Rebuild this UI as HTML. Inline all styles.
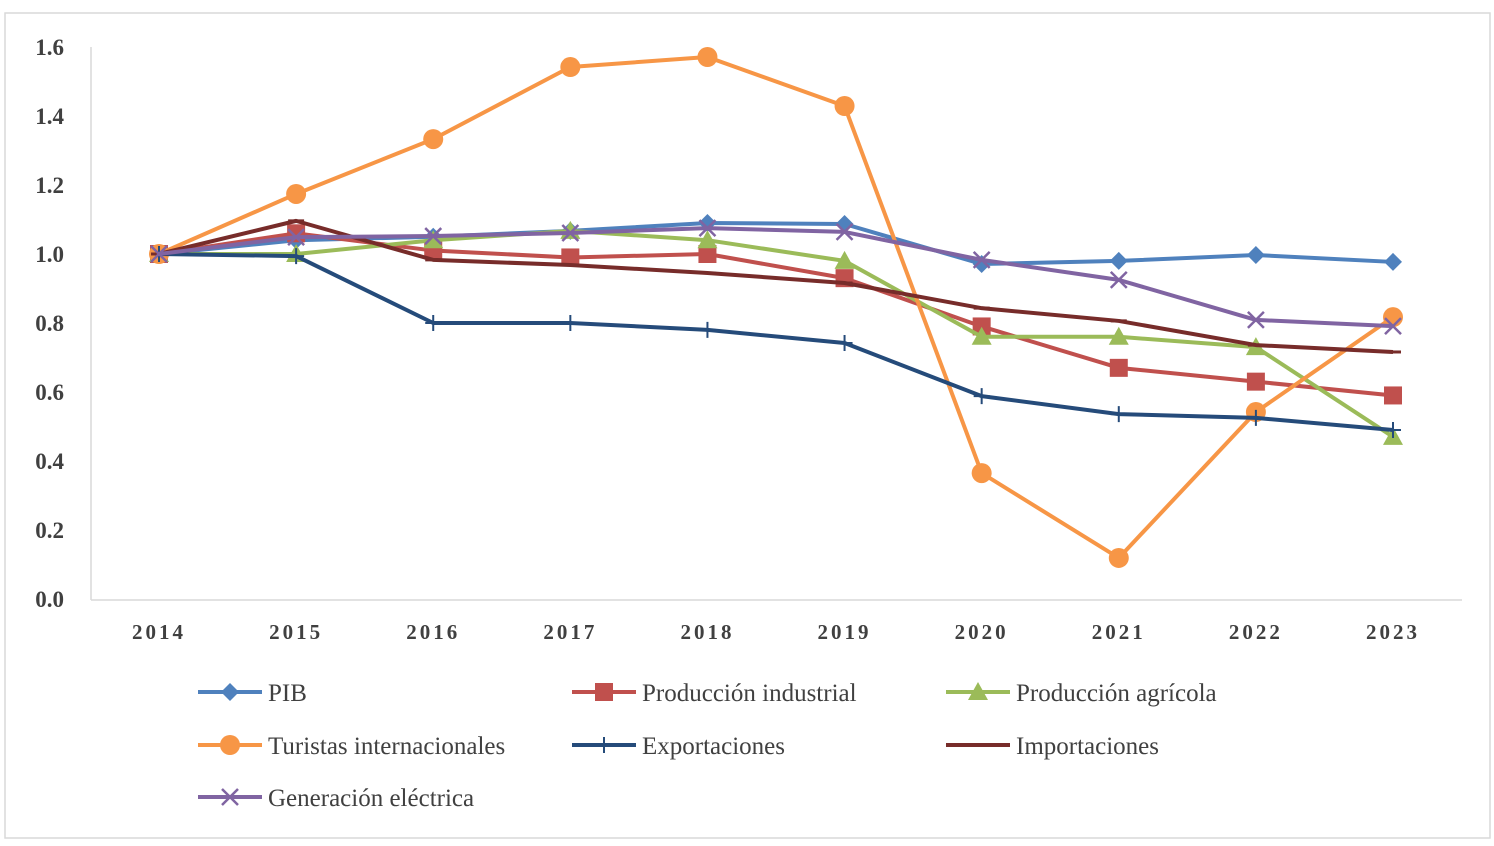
<!DOCTYPE html>
<html><head><meta charset="utf-8"><style>
body{margin:0;background:#fff;}
svg{display:block;font-family:"Liberation Serif",serif;}
</style></head><body>
<svg id="chart" width="1494" height="846">
<rect x="5" y="13" width="1485" height="825" fill="#fff" stroke="#d9d9d9" stroke-width="1.5"/>
<g id="axes"></g><g id="series"></g><g id="legend"></g>
</svg>
<script>
const years=["2014","2015","2016","2017","2018","2019","2020","2021","2022","2023"];
const yTicks=["0.0","0.2","0.4","0.6","0.8","1.0","1.2","1.4","1.6"];
const seriesNames=["PIB","Producción industrial","Producción agrícola","Turistas internacionales","Exportaciones","Importaciones","Generación eléctrica"];
const pib=[1.0,1.04,1.05,1.067,1.09,1.087,0.971,0.98,0.997,0.977];
const industrial=[1.0,1.06,1.01,0.99,1.0,0.93,0.79,0.67,0.63,0.59];
const agricola=[1.0,1.0,1.04,1.067,1.04,0.98,0.76,0.76,0.73,0.47];
const turistas=[1.0,1.174,1.333,1.542,1.571,1.429,0.365,0.119,0.542,0.817];
const exportaciones=[1.0,0.994,0.8,0.8,0.78,0.742,0.588,0.536,0.525,0.49];
const importaciones=[1.0,1.096,0.983,0.968,0.945,0.916,0.843,0.806,0.736,0.716];
const generacion=[1.0,1.049,1.052,1.061,1.075,1.064,0.983,0.925,0.809,0.791];

const NS="http://www.w3.org/2000/svg";
const x0=159,dx=(1393-159)/9,yBase=599,yScale=(599-47)/1.6;
const X=i=>x0+i*dx, Y=v=>yBase-v*yScale;
function mk(t,a,p){const e=document.createElementNS(NS,t);for(const k in a)e.setAttribute(k,a[k]);p.appendChild(e);return e;}
const axes=document.getElementById('axes');
const ya=mk('line',{x1:91,y1:47,x2:91,y2:600,stroke:'#d9d9d9','stroke-width':1.5},axes);


const xa=mk('line',{x1:91,y1:600,x2:1462,y2:600,stroke:'#d9d9d9','stroke-width':1.5},axes);


yTicks.forEach(t=>{const e=mk('text',{x:64,y:Y(parseFloat(t))+8,'text-anchor':'end','font-size':23,'font-weight':'bold',fill:'#404040'},axes);e.textContent=t;

});
years.forEach((t,i)=>{const e=mk('text',{x:X(i),y:639,'text-anchor':'middle','font-size':21,'font-weight':'bold','letter-spacing':3,fill:'#404040'},axes);e.textContent=t;

});

const cols=["#4F81BD","#C0504D","#9BBB59","#F79646","#254B7A","#772C2A","#8064A2"];
const markers=["diamond","square","triangle","circle","plus","dash","x"];
const data=[pib,industrial,agricola,turistas,exportaciones,importaciones,generacion];
function marker(type,x,y,c,g){
 let e;
 if(type=="diamond")e=mk('polygon',{points:`${x},${y-9} ${x+9},${y} ${x},${y+9} ${x-9},${y}`,fill:c},g);
 else if(type=="square")e=mk('rect',{x:x-9,y:y-9,width:18,height:18,fill:c},g);
 else if(type=="triangle")e=mk('polygon',{points:`${x},${y-10} ${x+10},${y+8} ${x-10},${y+8}`,fill:c},g);
 else if(type=="circle")e=mk('circle',{cx:x,cy:y,r:10,fill:c},g);
 else if(type=="plus")e=mk('path',{d:`M${x-8},${y}H${x+8}M${x},${y-8}V${y+8}`,stroke:c,'stroke-width':2},g);
 else if(type=="dash")e=mk('path',{d:`M${x-8},${y}H${x+8}`,stroke:c,'stroke-width':3},g);
 else e=mk('path',{d:`M${x-8},${y-8}L${x+8},${y+8}M${x+8},${y-8}L${x-8},${y+8}`,stroke:c,'stroke-width':2.5},g);
 
 
}
const sg=document.getElementById('series');
data.forEach((d,s)=>{
 const g=mk('g',{},sg);
 
 
 const p=mk('polyline',{points:d.map((v,i)=>X(i)+','+Y(v)).join(' '),fill:'none',stroke:cols[s],'stroke-width':4,'stroke-linejoin':'round'},g);
 
 
 d.forEach((v,i)=>marker(markers[s],X(i),Y(v),cols[s],g));
});
const lg=document.getElementById('legend');
const lpos=[[198,692],[572,692],[946,692],[198,745],[572,745],[946,745],[198,797]];
seriesNames.forEach((n,s)=>{
 const g=mk('g',{},lg);
 
 
 const [lx,ly]=lpos[s];
 mk('line',{x1:lx,y1:ly,x2:lx+64,y2:ly,stroke:cols[s],'stroke-width':4},g);
 marker(markers[s],lx+32,ly,cols[s],g);
 const t=mk('text',{x:lx+70,y:ly+9,'font-size':25,fill:'#404040'},g);t.textContent=n;
 
 
});
</script>
</body></html>
